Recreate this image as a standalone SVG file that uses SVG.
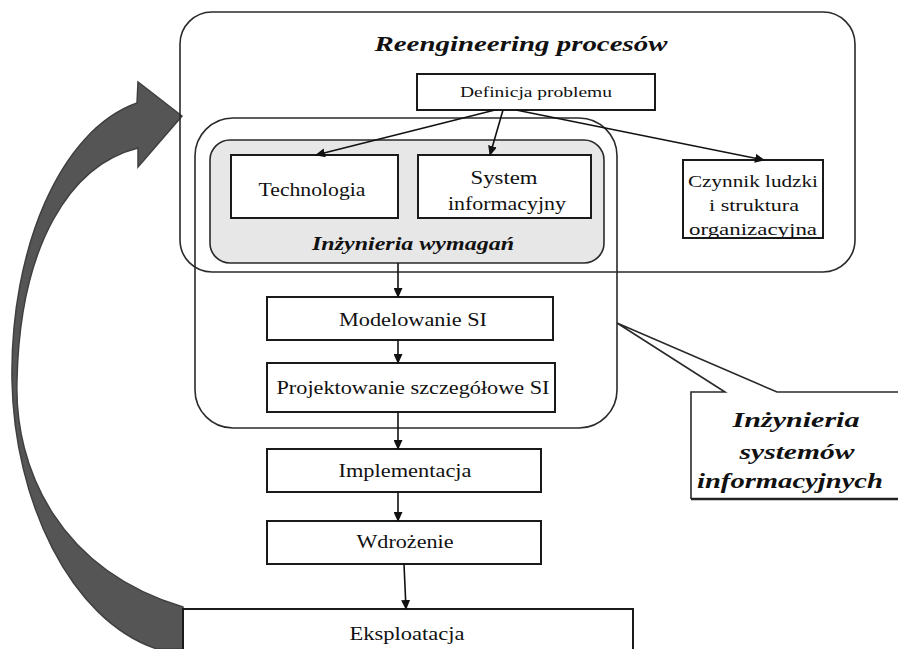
<svg xmlns="http://www.w3.org/2000/svg" width="898" height="649" viewBox="0 0 898 649">
<style>
.box{fill:#fff;stroke:#1a1a1a;stroke-width:2}
.frame{fill:none;stroke:#2a2a2a;stroke-width:1.6}
text{font-family:'Liberation Serif','Times New Roman',serif;fill:#111;text-anchor:middle}
.bi{font-weight:bold;font-style:italic}
.con{stroke:#111;stroke-width:1.6;fill:none;marker-end:url(#ah)}
</style>
<defs>
<marker id="ah" markerUnits="userSpaceOnUse" markerWidth="10" markerHeight="9" refX="9" refY="4.5" orient="auto">
<path d="M0,0 L10,4.5 L0,9 z" fill="#111"/>
</marker>
</defs>
<rect width="898" height="649" fill="#fff"/>
<g id="feedback-arrow">
<path d="M137,103 L138,82 L182,116 L138,167 L138,148 C70,165 20,245 17,380 C14,470 60,570 183,607 L183,649 L157,649 C70,620 14,500 12,380 C10,250 60,130 137,103 Z" fill="#555" stroke="#404040" stroke-width="1.5"/>
</g>
<g id="reengineering">
<rect class="frame" x="180" y="12" width="675" height="260" rx="32"/>
<text class="bi" x="521" y="51" font-size="22" textLength="293" lengthAdjust="spacingAndGlyphs">Reengineering procesów</text>
</g>
<g id="inzynieria-systemow-frame">
<rect class="frame" x="195" y="118" width="422" height="310" rx="38"/>
</g>
<g id="inzynieria-wymagan">
<rect x="210" y="140" width="394" height="123" rx="20" fill="#e7e7e7" stroke="#2a2a2a" stroke-width="1.6"/>
<text class="bi" x="413" y="250" font-size="18" textLength="202" lengthAdjust="spacingAndGlyphs">Inżynieria wymagań</text>
</g>
<g id="definicja">
<rect class="box" x="417" y="74" width="238" height="36"/>
<text x="536" y="97" font-size="14" textLength="152" lengthAdjust="spacingAndGlyphs">Definicja problemu</text>
</g>
<g id="technologia">
<rect class="box" x="231" y="155" width="167" height="63"/>
<text x="312" y="196" font-size="18" textLength="107" lengthAdjust="spacingAndGlyphs">Technologia</text>
</g>
<g id="system">
<rect class="box" x="418" y="155" width="173" height="63"/>
<text x="504" y="184" font-size="18" textLength="67" lengthAdjust="spacingAndGlyphs">System</text>
<text x="507" y="210" font-size="18" textLength="118" lengthAdjust="spacingAndGlyphs">informacyjny</text>
</g>
<g id="czynnik">
<rect class="box" x="683" y="160" width="140" height="78"/>
<text x="753" y="187" font-size="17" textLength="130" lengthAdjust="spacingAndGlyphs">Czynnik ludzki</text>
<text x="754" y="211" font-size="17" textLength="90" lengthAdjust="spacingAndGlyphs">i struktura</text>
<text x="753" y="235" font-size="17" textLength="128" lengthAdjust="spacingAndGlyphs">organizacyjna</text>
</g>
<g id="modelowanie">
<rect class="box" x="267" y="297" width="286" height="43"/>
<text x="413" y="326" font-size="18" textLength="148" lengthAdjust="spacingAndGlyphs">Modelowanie SI</text>
</g>
<g id="projektowanie">
<rect class="box" x="267" y="363" width="288" height="49"/>
<text x="413" y="394" font-size="18" textLength="273" lengthAdjust="spacingAndGlyphs">Projektowanie szczegółowe SI</text>
</g>
<g id="implementacja">
<rect class="box" x="267" y="449" width="274" height="43"/>
<text x="405" y="477" font-size="18" textLength="133" lengthAdjust="spacingAndGlyphs">Implementacja</text>
</g>
<g id="wdrozenie">
<rect class="box" x="267" y="521" width="274" height="43"/>
<text x="405" y="548" font-size="18" textLength="97" lengthAdjust="spacingAndGlyphs">Wdrożenie</text>
</g>
<g id="eksploatacja">
<rect class="box" x="183" y="609" width="450" height="60"/>
<text x="407" y="640" font-size="18" textLength="115" lengthAdjust="spacingAndGlyphs">Eksploatacja</text>
</g>
<g id="callout">
<path d="M691,499 L691,392 L725,392 L617,323 L777,392 L898,392" fill="#fff" stroke="#2a2a2a" stroke-width="1.6"/>
<path d="M691,499 L898,499" stroke="#222" stroke-width="2.5"/>
<text class="bi" x="796" y="427" font-size="22" textLength="127" lengthAdjust="spacingAndGlyphs">Inżynieria</text>
<text class="bi" x="797" y="459" font-size="22" textLength="115" lengthAdjust="spacingAndGlyphs">systemów</text>
<text class="bi" x="790" y="488" font-size="22" textLength="186" lengthAdjust="spacingAndGlyphs">informacyjnych</text>
</g>
<g id="connectors">
<path class="con" d="M495,110 L316,155"/>
<path class="con" d="M503,110 L490,155"/>
<path class="con" d="M516,110 L764,160"/>
<path class="con" d="M398,263 L398,297"/>
<path class="con" d="M398,340 L398,363"/>
<path class="con" d="M398,412 L398,449"/>
<path class="con" d="M398,492 L398,521"/>
<path class="con" d="M404,564 L406,609"/>
</g>
</svg>
